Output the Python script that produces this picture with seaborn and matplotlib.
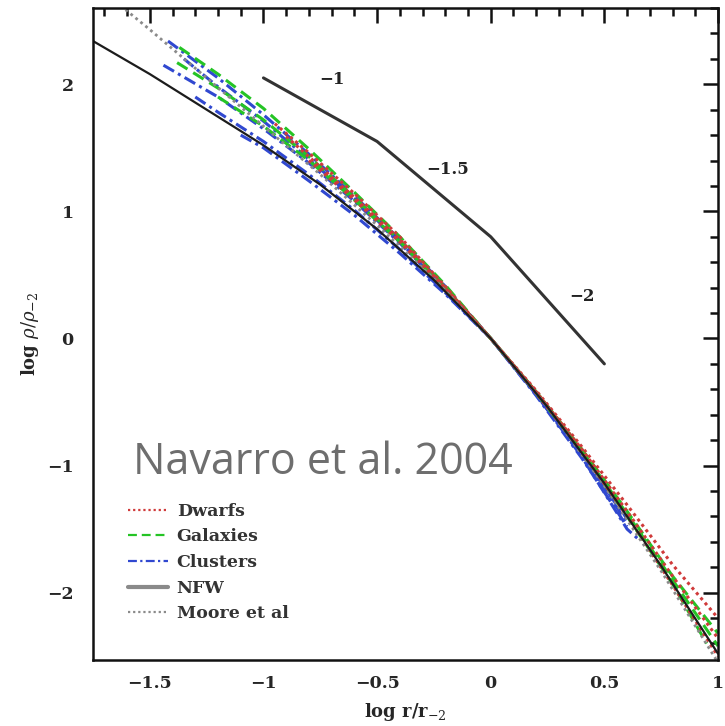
import numpy as np
import pandas as pd
import matplotlib
matplotlib.use("Agg")
import matplotlib.pyplot as plt
from matplotlib.lines import Line2D
from matplotlib.ticker import MultipleLocator
import seaborn as sns

# ---------------- data ----------------
# analytic-fit curves
nfw_log_r = [-1.75, -1.5, -1.25, -1.0, -0.75, -0.5, -0.25, 0.0, 0.25, 0.5, 0.75, 1.0]
nfw_log_rho = [2.34, 2.08, 1.80, 1.52, 1.21, 0.86, 0.46, 0.0, -0.54, -1.14, -1.79, -2.48]

moore_log_r = [-1.65, -1.5, -1.25, -1.0, -0.75, -0.5, -0.25, 0.0, 0.25, 0.5, 0.75, 1.0]
moore_log_rho = [2.65, 2.43, 2.05, 1.67, 1.29, 0.89, 0.47, 0.0, -0.54, -1.16, -1.83, -2.55]

# simulated halos
dwarf_log_r = [
    [-0.95, -0.8, -0.6, -0.4, -0.2, 0.0, 0.2, 0.4, 0.6, 0.8, 1.0],
    [-0.9, -0.8, -0.6, -0.4, -0.2, 0.0, 0.2, 0.4, 0.6, 0.8, 1.0],
    [-0.8, -0.6, -0.4, -0.2, 0.0, 0.2, 0.4, 0.6, 0.8, 1.0],
]
dwarf_log_rho = [
    [1.69, 1.46, 1.14, 0.80, 0.41, 0.0, -0.41, -0.85, -1.31, -1.78, -2.20],
    [1.59, 1.43, 1.11, 0.78, 0.40, 0.0, -0.42, -0.87, -1.36, -1.87, -2.36],
    [1.40, 1.09, 0.76, 0.39, 0.0, -0.43, -0.89, -1.40, -1.94, -2.50],
]

galaxy_log_r = [
    [-1.37, -1.2, -1.0, -0.8, -0.6, -0.4, -0.2, 0.0, 0.2, 0.4, 0.6, 0.8, 1.0],
    [-1.38, -1.2, -1.0, -0.8, -0.6, -0.4, -0.2, 0.0, 0.2, 0.4, 0.6, 0.8, 1.0],
    [-1.2, -1.0, -0.8, -0.6, -0.4, -0.2, 0.0, 0.2, 0.4, 0.6, 0.8, 0.95],
]
galaxy_log_rho = [
    [2.29, 2.08, 1.81, 1.49, 1.15, 0.80, 0.42, 0.0, -0.42, -0.87, -1.36, -1.87, -2.32],
    [2.17, 1.97, 1.72, 1.43, 1.11, 0.77, 0.40, 0.0, -0.42, -0.88, -1.38, -1.90, -2.42],
    [1.90, 1.67, 1.40, 1.09, 0.76, 0.39, 0.0, -0.43, -0.89, -1.40, -1.93, -2.40],
]

cluster_log_r = [
    [-1.42, -1.2, -1.0, -0.8, -0.6, -0.4, -0.2, 0.0, 0.2, 0.4, 0.6],
    [-1.35, -1.2, -1.0, -0.8, -0.6, -0.4, -0.2, 0.0, 0.2, 0.4, 0.55],
    [-1.44, -1.2, -1.0, -0.8, -0.6, -0.4, -0.2, 0.0, 0.2, 0.4, 0.6],
    [-1.3, -1.2, -1.0, -0.8, -0.6, -0.4, -0.2, 0.0, 0.2, 0.4, 0.6, 0.65],
    [-1.1, -1.0, -0.8, -0.6, -0.4, -0.2, 0.0, 0.2, 0.4, 0.6],
]
cluster_log_rho = [
    [2.34, 2.05, 1.76, 1.45, 1.12, 0.78, 0.41, 0.0, -0.43, -0.90, -1.42],
    [2.20, 1.98, 1.71, 1.41, 1.10, 0.76, 0.40, 0.0, -0.44, -0.91, -1.30],
    [2.15, 1.90, 1.65, 1.38, 1.08, 0.75, 0.39, 0.0, -0.44, -0.92, -1.45],
    [1.90, 1.78, 1.55, 1.29, 1.01, 0.70, 0.36, 0.0, -0.44, -0.93, -1.50, -1.58],
    [1.60, 1.50, 1.24, 0.97, 0.67, 0.35, 0.0, -0.45, -0.94, -1.48],
]

# slope guide
slope_log_r = [-1.0, -0.5, 0.0, 0.5]
slope_log_rho = [2.05, 1.55, 0.80, -0.20]
slope_labels = ["\u22121", "\u22121.5", "\u22122"]
slope_label_x = [-0.70, -0.19, 0.40]
slope_label_y = [2.04, 1.33, 0.33]

x_ticks = [-1.5, -1.0, -0.5, 0.0, 0.5, 1.0]
x_tick_labels = ["\u22121.5", "\u22121", "\u22120.5", "0", "0.5", "1"]
y_ticks = [-2, -1, 0, 1, 2]
y_tick_labels = ["\u22122", "\u22121", "0", "1", "2"]

# ---------------- build long-form table ----------------
rows = []
for kind, xs_all, ys_all in [("Clusters", cluster_log_r, cluster_log_rho),
                             ("Galaxies", galaxy_log_r, galaxy_log_rho),
                             ("Dwarfs", dwarf_log_r, dwarf_log_rho)]:
    for i, (xs, ys) in enumerate(zip(xs_all, ys_all)):
        for xv, yv in zip(xs, ys):
            rows.append({"type": kind, "curve": f"{kind}{i}", "log_r": xv, "log_rho": yv})
sims = pd.DataFrame(rows)

# ---------------- style ----------------
sns.set_style("white")
plt.rcParams["font.family"] = ["DejaVu Serif"]
plt.rcParams["mathtext.fontset"] = "dejavuserif"

fig = plt.figure(figsize=(7.25, 7.26), dpi=100)
ax = fig.add_axes([93 / 725, 1 - 660 / 726, (718 - 93) / 725, (660 - 8) / 726])

red = "#d03a3a"
green = "#25c425"
blue = "#3048d0"
palette = {"Dwarfs": red, "Galaxies": green, "Clusters": blue}
dashes = {"Dwarfs": (1, 1.2), "Galaxies": (4, 2.2), "Clusters": (4, 1.5, 1, 1.5)}

sns.lineplot(data=sims, x="log_r", y="log_rho", hue="type", style="type",
             units="curve", estimator=None, sort=False, palette=palette,
             dashes=dashes, linewidth=2.2, legend=False, ax=ax)

sns.lineplot(x=moore_log_r, y=moore_log_rho, color="#8a8a8a", linewidth=2.0,
             linestyle=(0, (1, 1.3)), ax=ax)
sns.lineplot(x=nfw_log_r, y=nfw_log_rho, color="#1c1c1c", linewidth=1.6, ax=ax)
sns.lineplot(x=slope_log_r, y=slope_log_rho, color="#333333", linewidth=2.2, ax=ax)

for lab, lx, ly in zip(slope_labels, slope_label_x, slope_label_y):
    ax.text(lx, ly, lab, fontsize=12, fontweight="bold", color="#222222",
            ha="center", va="center")

ax.text(-1.575, -1.07, "Navarro et al. 2004", fontsize=31, color="#6e6e6e",
        family=["Open Sans", "DejaVu Sans"], ha="left", va="baseline")

# ---------------- axes ----------------
ax.set_xlim(-1.75, 1.0)
ax.set_ylim(-2.53, 2.6)
ax.set_xticks(x_ticks)
ax.set_xticklabels(x_tick_labels)
ax.set_yticks(y_ticks)
ax.set_yticklabels(y_tick_labels)
ax.xaxis.set_minor_locator(MultipleLocator(0.1))
ax.yaxis.set_minor_locator(MultipleLocator(0.2))
ax.tick_params(which="both", direction="in", top=True, right=True, width=1.8,
               color="#111111")
ax.tick_params(which="major", length=10.5)
ax.tick_params(which="minor", length=5.5)
ax.tick_params(axis="x", which="major", pad=11, labelsize=12.5)
ax.tick_params(axis="y", which="major", pad=14, labelsize=12.5)
for lab in ax.get_xticklabels() + ax.get_yticklabels():
    lab.set_fontweight("bold")
for sp in ax.spines.values():
    sp.set_linewidth(1.8)
    sp.set_color("#111111")

ax.set_xlabel(r"log r/r$_{-2}$", fontsize=13, fontweight="bold", labelpad=6)
ax.set_ylabel(r"log $\rho/\rho_{-2}$", fontsize=13, fontweight="bold", labelpad=4)

handles = [
    Line2D([], [], color=red, lw=1.6, linestyle=(0, (1, 1.3))),
    Line2D([], [], color=green, lw=1.6, linestyle=(0, (4, 2.2))),
    Line2D([], [], color=blue, lw=1.6, linestyle=(0, (4, 1.5, 1, 1.5))),
    Line2D([], [], color="#8a8a8a", lw=3.0),
    Line2D([], [], color="#8a8a8a", lw=1.6, linestyle=(0, (1, 1.3))),
]
labels = ["Dwarfs", "Galaxies", "Clusters", "NFW", "Moore et al"]
leg = ax.legend(handles, labels, loc="upper left", bbox_to_anchor=(0.045, 0.252),
                frameon=False, fontsize=12.5, handlelength=2.3, handletextpad=0.5,
                labelspacing=0.5, borderaxespad=0)
for t in leg.get_texts():
    t.set_fontweight("bold")
    t.set_color("#333333")

fig.savefig("out.png", dpi=100)
